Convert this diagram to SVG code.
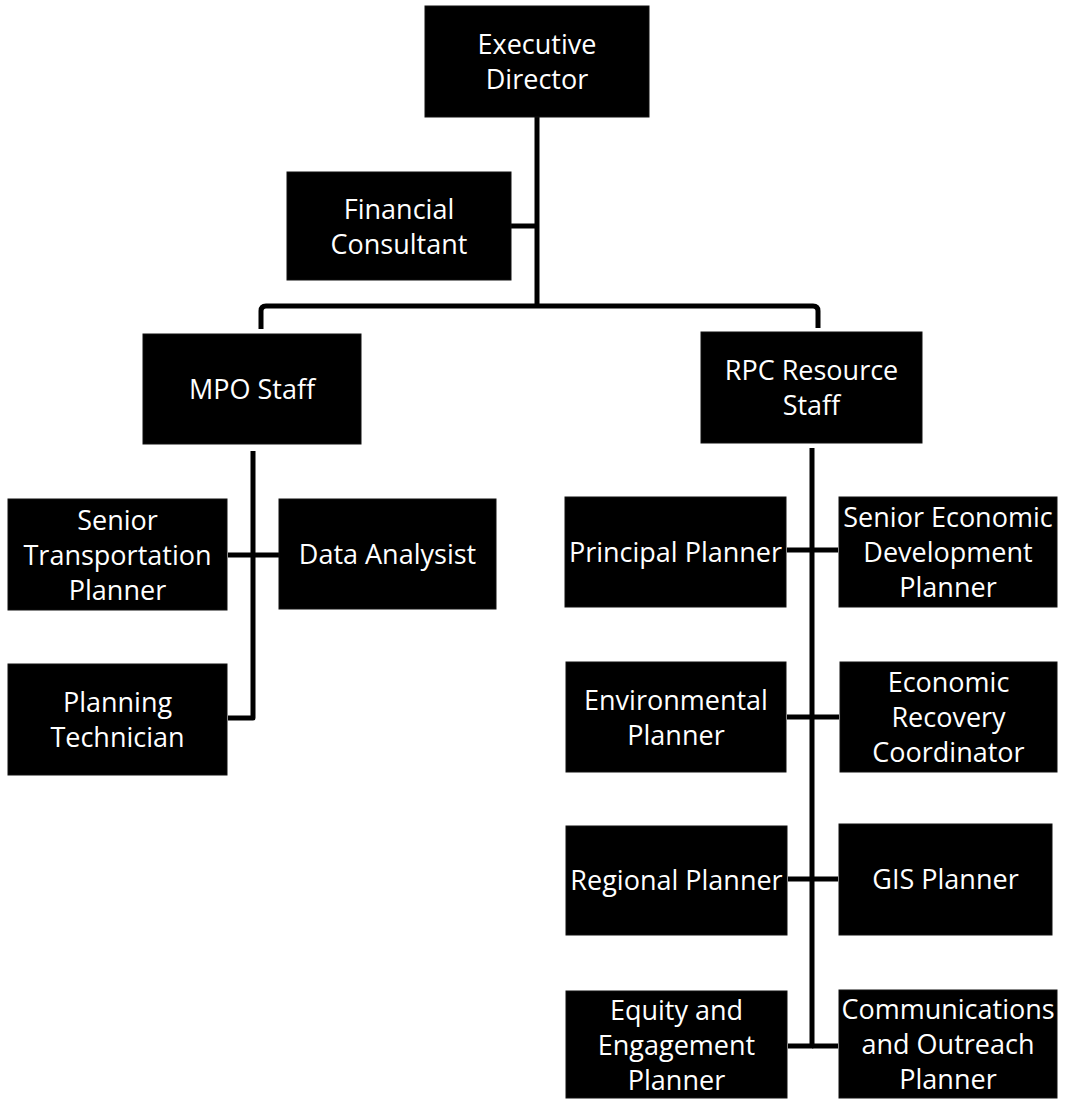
<svg xmlns="http://www.w3.org/2000/svg" width="1075" height="1101" viewBox="0 0 1075 1101">
<style>
.box{fill:#000;stroke:#111;stroke-width:1}
.t{font-family:"Open Sans","Liberation Sans",sans-serif;font-size:27px;fill:#fff;text-anchor:middle}
.c{fill:none;stroke:#000;stroke-width:5;stroke-linejoin:round}
</style>
<rect width="1075" height="1101" fill="#fff"/>
<g id="connectors">
<path class="c" d="M537,117 V306"/>
<path class="c" d="M511,226 H537"/>
<path class="c" d="M261,329 V311 Q261,306 266,306 H813 Q818,306 818,311 V328"/>
<path class="c" d="M253,451 V718 H228"/>
<path class="c" d="M228,555 H279"/>
<path class="c" d="M812,448 V1046 H788"/>
<path class="c" d="M812,1046 H838"/>
<path class="c" d="M787,550 H838"/>
<path class="c" d="M787,717 H839"/>
<path class="c" d="M788,879 H838"/>
</g>
<g id="executive-director"><rect class="box" x="425" y="6" width="224" height="111"/><text class="t" x="537" y="54">Executive</text><text class="t" x="537" y="89">Director</text></g>
<g id="financial-consultant"><rect class="box" x="287" y="172" width="224" height="108"/><text class="t" x="399" y="218.5">Financial</text><text class="t" x="399" y="253.5">Consultant</text></g>
<g id="mpo-staff"><rect class="box" x="143" y="334" width="218" height="110"/><text class="t" x="252" y="399">MPO Staff</text></g>
<g id="rpc-resource-staff"><rect class="box" x="701" y="332" width="221" height="111"/><text class="t" x="811.5" y="380">RPC Resource</text><text class="t" x="811.5" y="415">Staff</text></g>
<g id="senior-transportation-planner"><rect class="box" x="8" y="499" width="219" height="111"/><text class="t" x="117.5" y="529.5">Senior</text><text class="t" x="117.5" y="564.5">Transportation</text><text class="t" x="117.5" y="599.5">Planner</text></g>
<g id="data-analysist"><rect class="box" x="279" y="499" width="217" height="110"/><text class="t" x="387.5" y="564">Data Analysist</text></g>
<g id="planning-technician"><rect class="box" x="8" y="664" width="219" height="111"/><text class="t" x="117.5" y="712">Planning</text><text class="t" x="117.5" y="747">Technician</text></g>
<g id="principal-planner"><rect class="box" x="565" y="497" width="221" height="110"/><text class="t" x="675.5" y="562">Principal Planner</text></g>
<g id="senior-economic-development-planner"><rect class="box" x="839" y="497" width="218" height="110"/><text class="t" x="948" y="527">Senior Economic</text><text class="t" x="948" y="562">Development</text><text class="t" x="948" y="597">Planner</text></g>
<g id="environmental-planner"><rect class="box" x="566" y="662" width="220" height="110"/><text class="t" x="676" y="709.5">Environmental</text><text class="t" x="676" y="744.5">Planner</text></g>
<g id="economic-recovery-coordinator"><rect class="box" x="840" y="662" width="217" height="110"/><text class="t" x="948.5" y="692">Economic</text><text class="t" x="948.5" y="727">Recovery</text><text class="t" x="948.5" y="762">Coordinator</text></g>
<g id="regional-planner"><rect class="box" x="566" y="826" width="221" height="109"/><text class="t" x="676.5" y="890">Regional Planner</text></g>
<g id="gis-planner"><rect class="box" x="839" y="824" width="213" height="111"/><text class="t" x="945.5" y="889">GIS Planner</text></g>
<g id="equity-engagement-planner"><rect class="box" x="566" y="991" width="221" height="107"/><text class="t" x="676.5" y="1019.5">Equity and</text><text class="t" x="676.5" y="1054.5">Engagement</text><text class="t" x="676.5" y="1089.5">Planner</text></g>
<g id="communications-outreach-planner"><rect class="box" x="839" y="990" width="218" height="108"/><text class="t" x="948" y="1019">Communications</text><text class="t" x="948" y="1054">and Outreach</text><text class="t" x="948" y="1089">Planner</text></g>
</svg>
